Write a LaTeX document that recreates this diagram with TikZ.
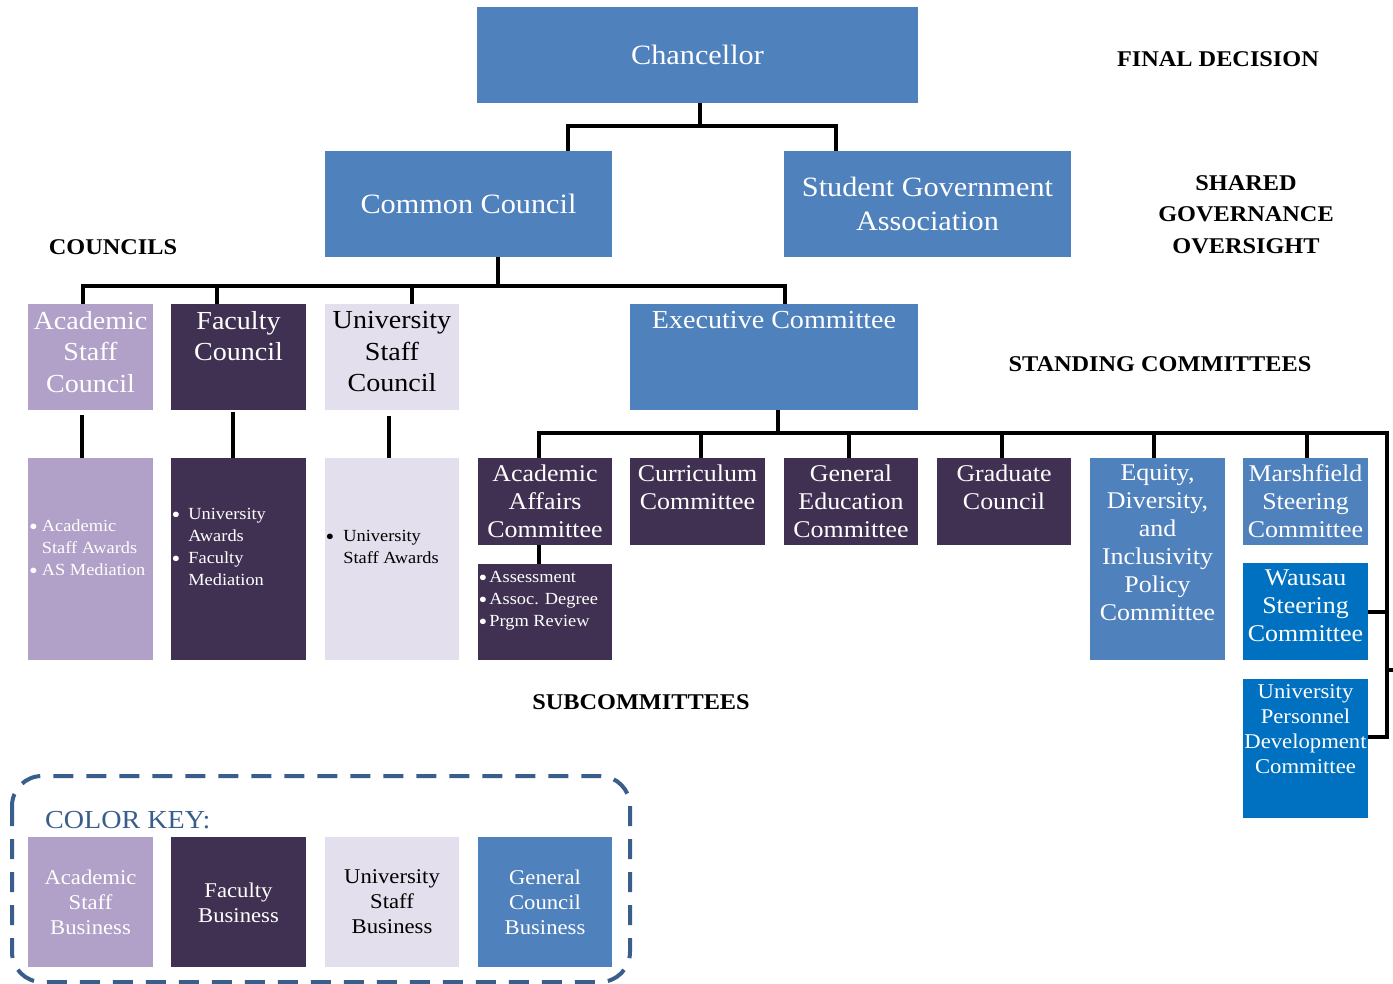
\documentclass[tikz,border=0pt]{standalone}
\usepackage{fontspec}
\setmainfont{Liberation Serif}[FakeStretch=1.08]
\usetikzlibrary{calc}
\definecolor{blueA}{HTML}{4F81BD}
\definecolor{blueB}{HTML}{0070C0}
\definecolor{lpurple}{HTML}{B1A0C7}
\definecolor{dpurple}{HTML}{403152}
\definecolor{vlpurple}{HTML}{E4DFEC}
\definecolor{keyblue}{HTML}{3A5E8C}
\newcommand{\bigbul}{\raisebox{-3.5pt}{\fontsize{23}{22}\selectfont\textbullet}}
\begin{document}
\begin{tikzpicture}[x=1pt,y=-1pt,
  box/.style={draw=none, inner sep=0, outer sep=0, anchor=north west},
  txt/.style={inner sep=0, align=center, text=white},
  dtxt/.style={inner sep=0, align=center, text=black},
  conn/.style={draw=black, line width=4, line join=miter},
  head/.style={inner sep=0, align=center, font=\fontsize{22.5}{31.5}\selectfont\bfseries},
  fbig/.style={font=\fontsize{28}{34}\selectfont},
  fmid/.style={font=\fontsize{26}{31.5}\selectfont},
  fstd/.style={font=\fontsize{24}{28}\selectfont},
  fsm/.style={font=\fontsize{21}{25}\selectfont},
  fbul/.style={inner sep=0, anchor=west, font=\fontsize{17}{22}\selectfont},
]
\useasboundingbox (0,0) rectangle (1393,984);

% ---------- boxes ----------
\node[box, fill=blueA, minimum width=441, minimum height=96] (chan) at (477,7) {};
\node[box, fill=blueA, minimum width=287, minimum height=106] (cc) at (325,151) {};
\node[box, fill=blueA, minimum width=287, minimum height=106] (sga) at (784,151) {};

\node[box, fill=lpurple, minimum width=125, minimum height=106] (asc) at (28,304) {};
\node[box, fill=dpurple, minimum width=135, minimum height=106] (fc) at (171,304) {};
\node[box, fill=vlpurple, minimum width=134, minimum height=106] (usc) at (325,304) {};
\node[box, fill=blueA, minimum width=288, minimum height=106] (exec) at (630,304) {};

\node[box, fill=lpurple, minimum width=125, minimum height=202] (ascs) at (28,458) {};
\node[box, fill=dpurple, minimum width=135, minimum height=202] (fcs) at (171,458) {};
\node[box, fill=vlpurple, minimum width=134, minimum height=202] (uscs) at (325,458) {};

\node[box, fill=dpurple, minimum width=134, minimum height=87] (aa) at (478,458) {};
\node[box, fill=dpurple, minimum width=134, minimum height=96] (aas) at (478,564) {};
\node[box, fill=dpurple, minimum width=135, minimum height=87] (cur) at (630,458) {};
\node[box, fill=dpurple, minimum width=134, minimum height=87] (ge) at (784,458) {};
\node[box, fill=dpurple, minimum width=134, minimum height=87] (grad) at (937,458) {};
\node[box, fill=blueA, minimum width=135, minimum height=202] (edi) at (1090,458) {};
\node[box, fill=blueA, minimum width=125, minimum height=87] (msc) at (1243,458) {};
\node[box, fill=blueB, minimum width=125, minimum height=97] (waus) at (1243,563) {};
\node[box, fill=blueB, minimum width=125, minimum height=139] (upd) at (1243,679) {};

% ---------- box texts ----------
\node[txt, fbig] (chanT) at (697.5,55) {Chancellor};
\node[txt, fbig] (ccT) at (468.5,204) {Common Council};
\node[txt, fbig] (sgaT) at (927.5,204) {Student Government\\Association};
\node[txt, fmid] (ascT) at (90.5,352) {Academic\\Staff\\Council};
\node[txt, fmid] (fcT) at (238.5,336) {Faculty\\Council};
\node[dtxt, fmid] (uscT) at (392,352) {University\\Staff\\Council};
\node[txt, fmid] (execT) at (774,320) {Executive Committee};

\node[fbul, text=white] (ascsT) at (29,549) {\begin{tabular}{@{}l@{\hspace{4pt}}l@{}}\bigbul&Academic\\&Staff Awards\\\bigbul&AS Mediation\end{tabular}};
\node[fbul, text=white] (fcsT) at (171.5,548) {\begin{tabular}{@{}l@{\hspace{8pt}}l@{}}\bigbul&University\\&Awards\\\bigbul&Faculty\\&Mediation\end{tabular}};
\node[fbul, text=black] (uscsT) at (325.5,548) {\begin{tabular}{@{}l@{\hspace{9pt}}l@{}}\bigbul&University\\&Staff Awards\end{tabular}};
\node[fbul, text=white] (aasT) at (478.5,600) {\begin{tabular}{@{}l@{\hspace{2pt}}l@{}}\bigbul&Assessment\\\bigbul&Assoc. Degree\\\bigbul&Prgm Review\end{tabular}};

\node[txt, fstd] (aaT) at (545,501) {Academic\\Affairs\\Committee};
\node[txt, fstd] (curT) at (697.5,487) {Curriculum\\Committee};
\node[txt, fstd] (geT) at (851,501) {General\\Education\\Committee};
\node[txt, fstd] (gradT) at (1004,487) {Graduate\\Council};
\node[txt, fstd] (ediT) at (1157.5,543) {Equity,\\Diversity,\\and\\Inclusivity\\Policy\\Committee};
\node[txt, fstd] (mscT) at (1305.5,501) {Marshfield\\Steering\\Committee};
\node[txt, fstd] (wausT) at (1305.5,606) {Wausau\\Steering\\Committee};
\node[txt, fsm] (updT) at (1305.5,729.5) {University\\Personnel\\Development\\Committee};

% ---------- headings ----------
\node[head] (h1) at (1218,59) {FINAL DECISION};
\node[head] (h2) at (1246,214.5) {SHARED\\GOVERNANCE\\OVERSIGHT};
\node[head] (h3) at (113,247) {COUNCILS};
\node[head] (h4) at (1160,364) {STANDING COMMITTEES};
\node[head] (h5) at (641,702) {SUBCOMMITTEES};

% ---------- connectors ----------
\draw[conn] ([xshift=2.5]chan.south) -- ++(0,23) coordinate (j1);
\draw[conn] ([xshift=99.5]cc.north) |- (j1) -| ([xshift=-91.5]sga.north);

\draw[conn] ([xshift=29.5]cc.south) -- ++(0,29) coordinate (j2);
\draw[conn] ([xshift=-7.5]asc.north) |- (j2) -| ([xshift=11]exec.north);
\draw[conn] ([xshift=-21.5]fc.north) -- ([xshift=-21.5]fc.north |- j2);
\draw[conn] ([xshift=20]usc.north) -- ([xshift=20]usc.north |- j2);

\draw[conn] ([xshift=-8.5,yshift=-5]asc.south) -- ([xshift=-8.5]ascs.north);
\draw[conn] ([xshift=-5.5,yshift=-2]fc.south) -- ([xshift=-5.5]fcs.north);
\draw[conn] ([xshift=-3,yshift=-6]usc.south) -- ([xshift=-3]uscs.north);

\draw[conn] ([xshift=4]exec.south) -- ++(0,23) coordinate (j3);
\coordinate (rc) at (1387,433);
\coordinate (off) at (1393,670);
\draw[conn] ([xshift=-6]aa.north) |- (j3) -- (rc) |- ([yshift=11.5]upd.east);
\draw[conn] ([xshift=3.5]cur.north) -- ([xshift=3.5]cur.north |- j3);
\draw[conn] ([xshift=-2]ge.north) -- ([xshift=-2]ge.north |- j3);
\draw[conn] ([xshift=-2]grad.north) -- ([xshift=-2]grad.north |- j3);
\draw[conn] ([xshift=-3.5]edi.north) -- ([xshift=-3.5]edi.north |- j3);
\draw[conn] ([xshift=1.5]msc.north) -- ([xshift=1.5]msc.north |- j3);
\draw[conn] (waus.east) -- (waus.east -| rc);
\draw[conn] (rc |- off) -- (off);
\draw[conn] ([xshift=-6]aa.south) -- ([xshift=-6]aas.north);

% ---------- colour key ----------
\draw[keyblue, line width=4, dash pattern=on 20 off 13, rounded corners=30] (12,776) rectangle (630,982);
\node[inner sep=0, anchor=west, text=keyblue, font=\fontsize{26}{30}\selectfont] (keyT) at (45,820) {COLOR KEY:};
\node[box, fill=lpurple, minimum width=125, minimum height=130] (k1) at (28,837) {};
\node[box, fill=dpurple, minimum width=135, minimum height=130] (k2) at (171,837) {};
\node[box, fill=vlpurple, minimum width=134, minimum height=130] (k3) at (325,837) {};
\node[box, fill=blueA, minimum width=134, minimum height=130] (k4) at (478,837) {};
\node[txt, fsm] (k1T) at (90.5,902) {Academic\\Staff\\Business};
\node[txt, fsm] (k2T) at (238.5,902.5) {Faculty\\Business};
\node[dtxt, fsm] (k3T) at (392,902) {University\\Staff\\Business};
\node[txt, fsm] (k4T) at (545,902) {General\\Council\\Business};
\end{tikzpicture}
\end{document}
